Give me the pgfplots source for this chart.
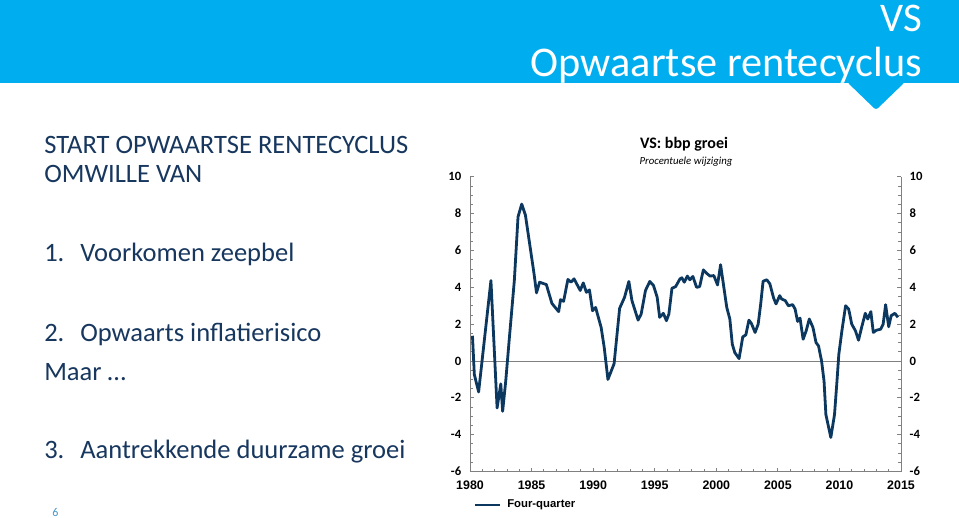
\documentclass[border=0pt]{standalone}
\usepackage{fontspec}
\setmainfont{Carlito}
\newfontfamily\arialfont{Liberation Sans}
\usepackage{pgfplots}
\usepackage{pgfplotstable}
\pgfplotsset{compat=1.18}
\definecolor{bannerBlue}{RGB}{0,174,239}
\definecolor{textNavy}{RGB}{23,55,94}
\definecolor{lineNavy}{RGB}{12,56,96}
\definecolor{axisGray}{RGB}{128,128,128}
\definecolor{pageBlue}{RGB}{70,150,200}

% VS bbp groei, four-quarter % change
\pgfplotstableread{
year gdp
1980.20 1.37
1980.35 -0.73
1980.70 -1.68
1981.70 4.37
1982.20 -2.55
1982.50 -1.24
1982.65 -2.73
1982.90 -1.10
1983.20 1.28
1983.60 4.37
1983.90 7.83
1984.20 8.52
1984.50 7.92
1984.80 6.56
1985.20 4.74
1985.40 3.70
1985.65 4.28
1986.20 4.15
1986.65 3.13
1987.20 2.68
1987.35 3.33
1987.60 3.24
1987.95 4.43
1988.20 4.28
1988.45 4.46
1988.95 3.83
1989.20 4.24
1989.45 3.73
1989.70 3.86
1989.95 2.73
1990.20 2.91
1990.65 1.82
1990.90 0.73
1991.20 -1.00
1991.70 -0.15
1992.15 2.86
1992.55 3.46
1992.90 4.32
1993.15 3.28
1993.65 2.22
1993.90 2.55
1994.25 3.83
1994.60 4.32
1994.90 4.10
1995.20 3.46
1995.40 2.37
1995.70 2.59
1995.95 2.19
1996.15 2.55
1996.40 3.95
1996.70 4.04
1997.05 4.46
1997.20 4.52
1997.40 4.28
1997.65 4.61
1997.85 4.41
1998.10 4.59
1998.40 4.00
1998.65 4.04
1998.95 4.95
1999.20 4.77
1999.50 4.61
1999.80 4.64
2000.10 4.13
2000.35 5.23
2000.65 3.83
2000.85 2.91
2001.10 2.28
2001.30 0.91
2001.50 0.46
2001.85 0.13
2002.15 1.31
2002.40 1.42
2002.65 2.22
2002.85 2.04
2003.15 1.55
2003.40 2.00
2003.60 3.06
2003.80 4.33
2004.10 4.41
2004.35 4.19
2004.65 3.43
2004.85 3.10
2005.15 3.55
2005.30 3.37
2005.60 3.28
2005.85 3.00
2006.20 3.06
2006.40 2.82
2006.60 2.15
2006.80 2.33
2007.05 1.18
2007.30 1.64
2007.55 2.28
2007.85 1.82
2008.10 1.00
2008.30 0.82
2008.55 0.00
2008.75 -1.09
2008.90 -2.91
2009.30 -4.15
2009.60 -2.91
2009.80 -1.09
2009.95 0.36
2010.20 1.64
2010.50 3.00
2010.75 2.82
2011.00 2.00
2011.30 1.64
2011.55 1.13
2011.80 1.82
2012.10 2.59
2012.30 2.28
2012.55 2.68
2012.75 1.55
2013.00 1.67
2013.35 1.73
2013.55 2.00
2013.75 3.06
2014.00 1.86
2014.20 2.46
2014.50 2.59
2014.75 2.37
}\gdpdata

% axis box: x 470..901 px, y 176.8..471.5 px (1px = 0.75pt)
\pgfplotsset{gdpaxis/.style={
  at={(352.5pt,-353.625pt)}, anchor=south west,
  scale only axis, width=323.25pt, height=221pt,
  xmin=1980, xmax=2015, ymin=-6, ymax=10,
  ytick={-6,-4,...,10}, minor y tick num=3,
  tick align=inside, major tick length=3pt, minor tick length=2pt,
  tick style={axisGray, line width=0.6pt},
  axis line style={axisGray, line width=0.75pt, -},
  /pgf/number format/assume math mode=true,
  /pgf/number format/1000 sep={},
  yticklabel style={font=\bfseries\fontsize{9.5}{9.5}\selectfont, text=black},
}}

\begin{document}
\begin{tikzpicture}[x=0.75pt,y=-0.75pt]
\path[fill=white,use as bounding box] (0,0) rectangle (959,517);

% banner
\fill[bannerBlue] (0,0) rectangle (959,83);
\fill[bannerBlue, rounded corners=2pt] (847,82) -- (905,82) -- (876,110) -- cycle;
\node[anchor=base east, inner sep=0, text=white, font=\fontsize{30.5}{30.5}\selectfont] at (922,32) {VS};
\node[anchor=base east, inner sep=0, text=white, font=\fontsize{31.7}{31.7}\selectfont] at (922,76) {Opwaartse rentecyclus};

% left text
\begin{scope}[every node/.style={anchor=base west, inner sep=0, text=textNavy, font=\fontsize{19.9}{19.9}\selectfont}]
\node at (44,153) {START OPWAARTSE RENTECYCLUS};
\node at (44,182) {OMWILLE VAN};
\node at (44,261) {1.};
\node at (80,261) {Voorkomen zeepbel};
\node at (44,341) {2.};
\node at (80,341) {Opwaarts inflatierisico};
\node at (44,380) {Maar …};
\node at (44,458) {3.};
\node at (80,458) {Aantrekkende duurzame groei};
\node[font=\fontsize{9}{9}\selectfont, text=pageBlue] at (52,516) {6};
\end{scope}

% chart titles
\node[inner sep=0, font=\bfseries\fontsize{12}{12}\selectfont] at (684,144) {VS: bbp groei};
\node[inner sep=0, font=\itshape\fontsize{8.1}{8.1}\selectfont] at (686,162) {Procentuele wijziging};

\begin{axis}[gdpaxis,
  axis x line*=bottom, axis y line*=left,
  xtick={1980,1985,...,2015}, minor x tick num=4,
  xticklabel style={font=\arialfont\bfseries\fontsize{9.3}{9.3}\selectfont, text=black, yshift=-3.5pt},
  yticklabel style={xshift=-3pt},
]
\draw[axisGray, line width=0.75pt] (axis cs:1980,0) -- (axis cs:2015,0);
\addplot[lineNavy, line width=2.1pt, line join=round, mark=none] table[x=year,y=gdp]{\gdpdata};
\end{axis}

\begin{axis}[gdpaxis,
  axis x line=none, axis y line*=right,
  yticklabel style={xshift=3pt},
]
\end{axis}

% legend
\draw[lineNavy, line width=2pt] (475,505) -- (500,505);
\node[anchor=west, inner sep=0, font=\arialfont\bfseries\fontsize{8.5}{8.5}\selectfont] at (507,505) {Four-quarter};
\end{tikzpicture}
\end{document}
